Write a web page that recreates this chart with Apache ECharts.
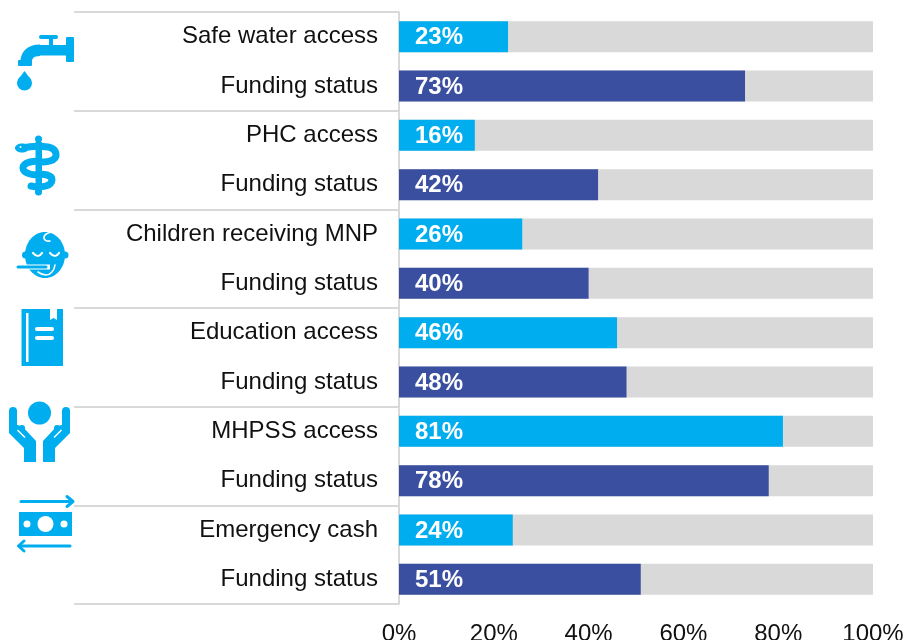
<!DOCTYPE html>
<html>
<head>
	<meta charset="UTF-8">
	<title>access and funding</title>
	<style>html,body{margin:0;padding:0;background:#fff;}</style>
</head>
<body>
	<div id="mychart" style="width:904px;height:640px;"></div>
<script type="text/javascript" src="https://cdn.jsdelivr.net/npm/echarts@6/dist/echarts.min.js"></script>
<script type="text/javascript">
	var categories = ['Safe water access','Funding status','PHC access','Funding status','Children receiving MNP','Funding status','Education access','Funding status','MHPSS access','Funding status','Emergency cash','Funding status'];
	var percentValues = [23,73,16,42,26,40,46,48,81,78,24,51];
	var sectorGroups = ['Water','Health','Nutrition','Education','MHPSS','Cash'];
	var tickValues = [0,20,40,60,80,100];

	var BLUE = '#00aeef', NAVY = '#3a4fa0', GREY = '#d9d9d9', WHITE = '#fff', TEXT = '#111';

	// helpers for the little icons on the left
	function box(x,y,w,h,fill,r){
		return {type:'rect',shape:{x:x,y:y,width:w,height:h,r:r||0},style:{fill:fill||BLUE}};
	}
	function dot(x,y,r,fill){
		return {type:'circle',shape:{cx:x,cy:y,r:r},style:{fill:fill||BLUE}};
	}
	function oval(x,y,rx,ry,fill){
		return {type:'ellipse',shape:{cx:x,cy:y,rx:rx,ry:ry},style:{fill:fill||BLUE}};
	}
	function poly(points,fill){
		return {type:'polygon',shape:{points:points},style:{fill:fill||BLUE}};
	}
	function stroke(points,width,color,smooth,cap){
		return {type:'polyline',shape:{points:points,smooth:smooth||0},
			style:{fill:null,stroke:color||BLUE,lineWidth:width,lineCap:cap||'round',lineJoin:'round'}};
	}
	// one hand of the MHPSS icon, mirrored around the middle of the icon
	function hand(flip){
		function mx(p){ return [flip ? 79-p[0] : p[0], p[1]]; }
		return [
			dot(mx([13,0])[0],411,4),
			poly([[9,411],[17,411],[17,425],[22,426],[36,441],[36,462],[24,462],[24,448],[9,433]].map(mx)),
			dot(mx([22,428])[0],428,3),
			stroke([[17.5,430],[25,437.5]].map(mx),1.5,WHITE,0,'butt')
		];
	}

	var icons = [
		// tap
		box(66,37,8,25,BLUE,1), box(39,35,19,4,BLUE,2), box(49,38,4,8),
		box(38,45,29,10.5),
		{type:'bezierCurve',shape:{x1:40,y1:50.2,cpx1:26,cpy1:50.2,x2:26,y2:63},style:{fill:null,stroke:BLUE,lineWidth:11.5}},
		box(18,60,14,6,BLUE,1),
		dot(24.5,83,7.5), poly([[24.5,71],[17.8,80],[31.2,80]]),
		// staff and snake
		dot(38.5,139,3.5), box(35.5,142,6.5,50), dot(38.5,192,3.5),
		stroke([[22,148],[48,147],[56,154],[50,161],[30,162],[23,168],[30,174],[47,175],[52,180],[46,186],[31,186]],7,BLUE,0.5),
		oval(22,148,7,4.5),
		dot(20.5,147,1,WHITE),
		// baby
		oval(45,255,20,23), dot(25.5,255,3.5), dot(65,255,3.5),
		stroke([[52,232],[45,235],[45,240],[50,241]],1.6,WHITE,0.5),
		stroke([[33,253],[38,256],[42,253]],2.2,WHITE,0.5),
		stroke([[50,253],[55,256],[59,253]],2.2,WHITE,0.5),
		stroke([[17,267],[50,267]],5,WHITE,0,'butt'),
		stroke([[18,267],[46,267]],3,BLUE),
		stroke([[38,272],[46,275],[52,272],[55,265]],1.6,WHITE,0.5),
		// book
		box(21.5,309,41.5,57), box(26,313,2.5,49,WHITE),
		box(35,327,19,4,WHITE,2), box(35,336,19,4,WHITE,2),
		poly([[50,309],[57,309],[57,320],[53.5,318],[50,320]],WHITE),
		// hands
		dot(39.5,413,11.5)
	].concat(hand(false),hand(true),[
		// cash and arrows
		stroke([[21,501.5],[72,501.5]],3), stroke([[67,496.5],[73,501.5],[67,506.5]],3),
		box(19,512,53,24), dot(45.5,524,8,WHITE), dot(27,524,3.5,WHITE), dot(64,524,3.5,WHITE),
		stroke([[70,546],[19,546]],3), stroke([[24,541],[18.5,546],[24,551]],3)
	]);

	var myChart = echarts.init(document.getElementById('mychart'));
	myChart.setOption({
		animation:false,
		textStyle:{fontFamily:'"Liberation Sans",Arial,sans-serif'},
		grid:[
			{left:399,top:12,width:474,height:592,outerBoundsMode:'none'},
			{left:74,top:12,width:325,height:592,outerBoundsMode:'none'}
		],
		xAxis:[
			{
				type:'value',gridIndex:0,min:0,max:100,interval:20,
				axisLine:{show:false},axisTick:{show:false},splitLine:{show:false},
				axisLabel:{
					color:TEXT,fontSize:24,margin:18,
					customValues:tickValues,hideOverlap:false,
					formatter:function(v){return v+'%';}
				}
			},
			{type:'value',gridIndex:1,show:false}
		],
		yAxis:[
			{
				type:'category',gridIndex:0,inverse:true,data:categories,
				axisLine:{show:true,lineStyle:{color:GREY,width:2}},
				axisTick:{show:false},
				axisLabel:{color:TEXT,fontSize:24,margin:21,interval:0,padding:[4,0,0,0]}
			},
			{
				// only here for the separator lines between the sectors
				type:'category',gridIndex:1,inverse:true,data:sectorGroups,
				axisLine:{show:false},axisTick:{show:false},axisLabel:{show:false},
				splitLine:{show:true,interval:0,lineStyle:{color:GREY,width:2}}
			}
		],
		series:[{
			type:'bar',xAxisIndex:0,yAxisIndex:0,barWidth:31,
			showBackground:true,
			backgroundStyle:{color:GREY},
			data:percentValues,
			itemStyle:{
				color:function(p){return p.dataIndex%2==0 ? BLUE : NAVY;}
			},
			label:{
				show:true,position:'insideLeft',distance:16,offset:[0,1],
				color:'#fff',fontSize:24,fontWeight:'bold',
				formatter:'{c}%'
			}
		}],
		graphic:{elements:icons}
	});
</script>
</body>
</html>
